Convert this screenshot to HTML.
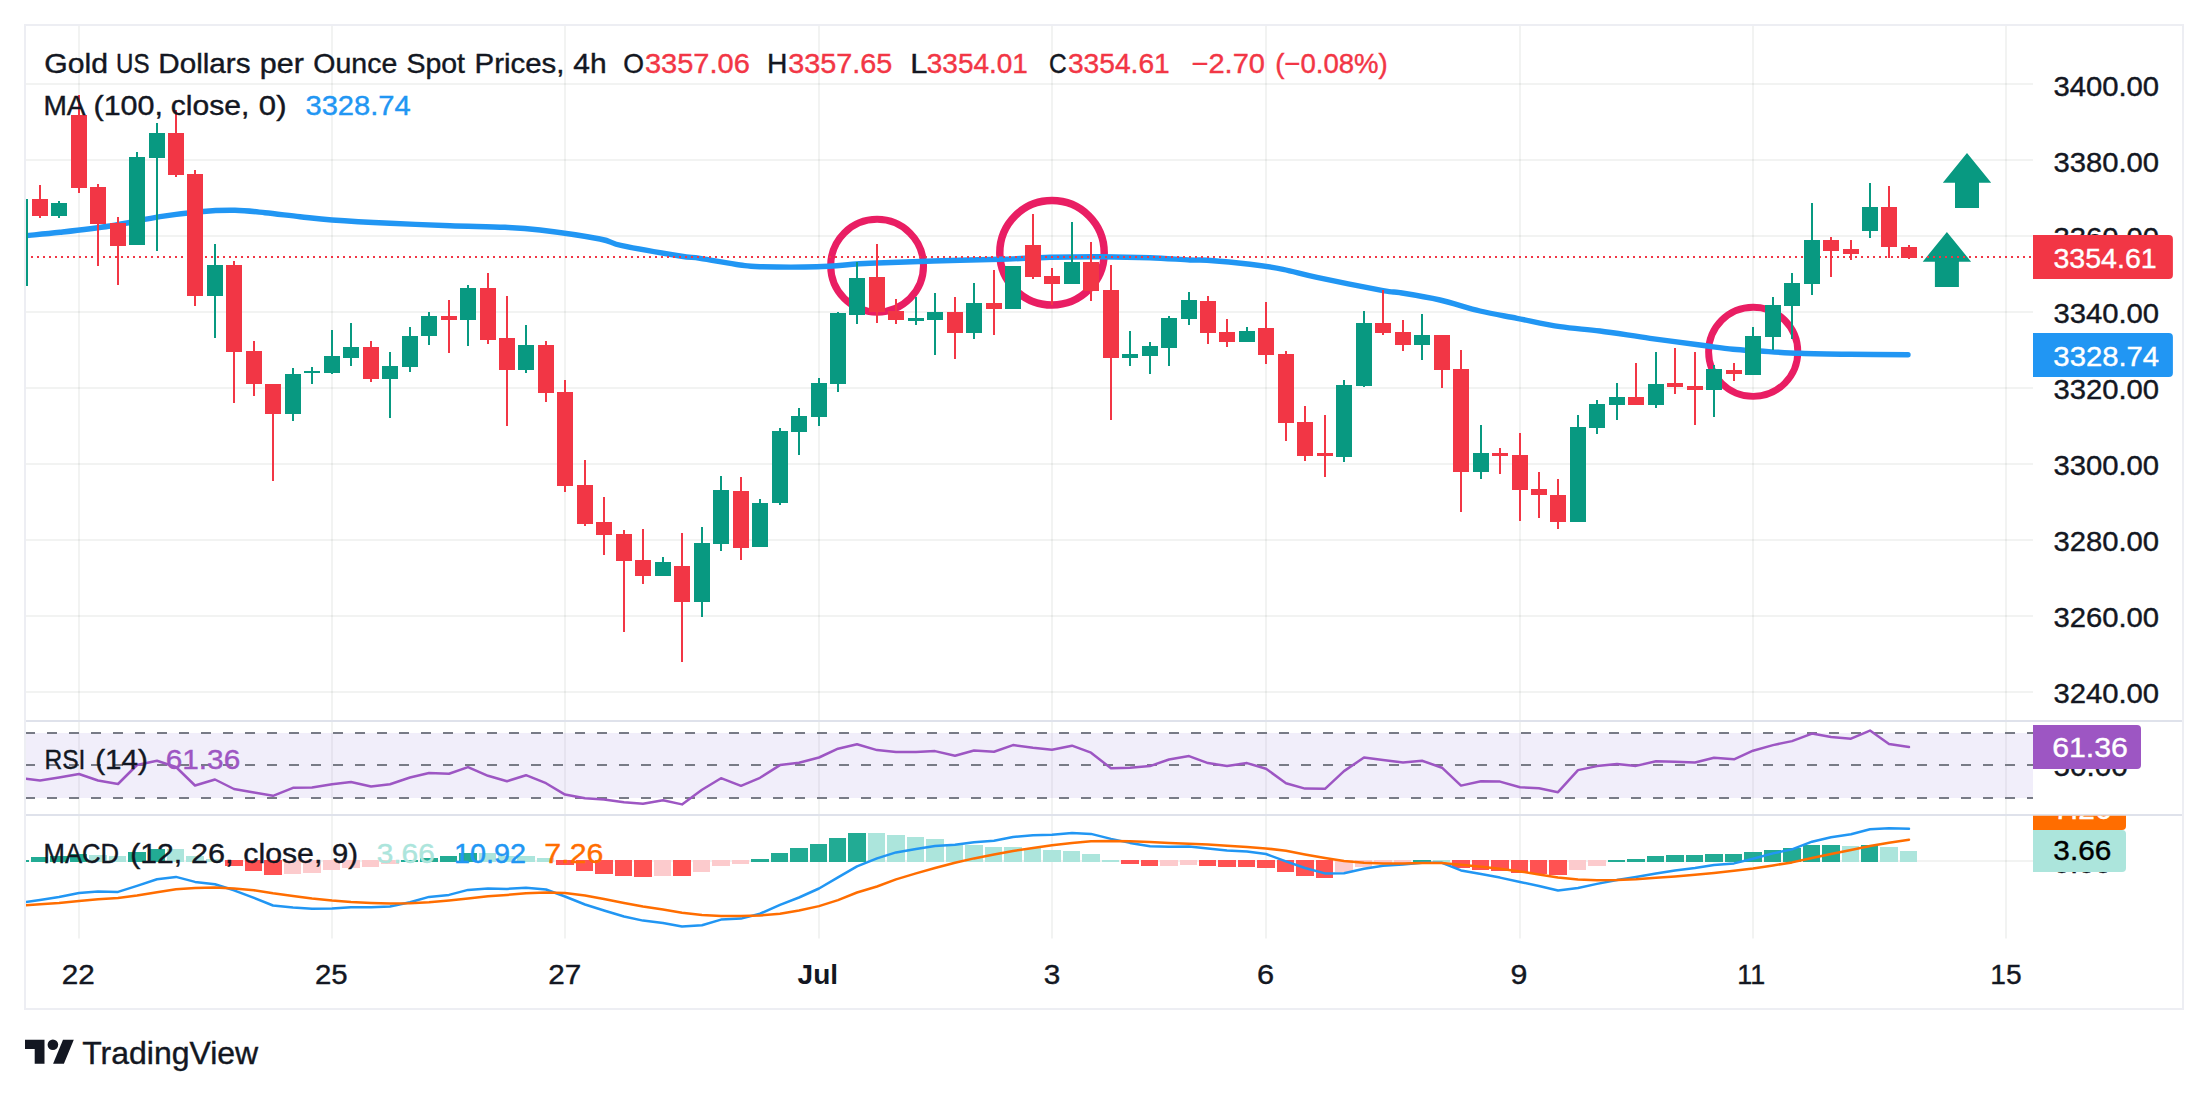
<!DOCTYPE html>
<html><head><meta charset="utf-8"><title>Gold chart</title>
<style>html,body{margin:0;padding:0;background:#fff}svg{display:block}</style></head>
<body>
<svg width="2208" height="1097" viewBox="0 0 2208 1097" font-family="Liberation Sans, Arial, sans-serif" font-size="28" stroke-width="0.4">
<defs>
<clipPath id="cpMain"><rect x="25" y="26" width="2008" height="694"/></clipPath>
<clipPath id="cpRsi"><rect x="26" y="722" width="2007" height="92"/></clipPath>
<clipPath id="cpMacd"><rect x="26" y="816" width="2007" height="123"/></clipPath>
<clipPath id="cpMacdAx"><rect x="2033" y="815.7" width="150" height="123"/></clipPath>
<clipPath id="cpRsiAx"><rect x="2033" y="721.7" width="150" height="92"/></clipPath>
</defs>
<rect width="2208" height="1097" fill="#fff"/>
<rect x="78.0" y="26" width="2" height="912.5" fill="rgba(30,50,40,0.06)"/>
<rect x="331.0" y="26" width="2" height="912.5" fill="rgba(30,50,40,0.06)"/>
<rect x="564.0" y="26" width="2" height="912.5" fill="rgba(30,50,40,0.06)"/>
<rect x="818.0" y="26" width="2" height="912.5" fill="rgba(30,50,40,0.06)"/>
<rect x="1051.0" y="26" width="2" height="912.5" fill="rgba(30,50,40,0.06)"/>
<rect x="1265.0" y="26" width="2" height="912.5" fill="rgba(30,50,40,0.06)"/>
<rect x="1519.0" y="26" width="2" height="912.5" fill="rgba(30,50,40,0.06)"/>
<rect x="1752.0" y="26" width="2" height="912.5" fill="rgba(30,50,40,0.06)"/>
<rect x="2005.0" y="26" width="2" height="912.5" fill="rgba(30,50,40,0.06)"/>
<rect x="26" y="83.0" width="2007" height="2" fill="rgba(30,50,40,0.06)"/>
<rect x="26" y="159.0" width="2007" height="2" fill="rgba(30,50,40,0.06)"/>
<rect x="26" y="235.0" width="2007" height="2" fill="rgba(30,50,40,0.06)"/>
<rect x="26" y="311.0" width="2007" height="2" fill="rgba(30,50,40,0.06)"/>
<rect x="26" y="387.0" width="2007" height="2" fill="rgba(30,50,40,0.06)"/>
<rect x="26" y="463.0" width="2007" height="2" fill="rgba(30,50,40,0.06)"/>
<rect x="26" y="539.0" width="2007" height="2" fill="rgba(30,50,40,0.06)"/>
<rect x="26" y="615.0" width="2007" height="2" fill="rgba(30,50,40,0.06)"/>
<rect x="26" y="691.0" width="2007" height="2" fill="rgba(30,50,40,0.06)"/>
<rect x="26" y="764" width="2007" height="2" fill="rgba(30,50,40,0.06)"/>
<rect x="26" y="860" width="2007" height="2" fill="rgba(30,50,40,0.06)"/>
<rect x="26" y="733" width="2007" height="65" fill="#F1EEFA"/>
<rect x="78.0" y="733" width="2" height="65" fill="#E6E3EF"/>
<rect x="331.0" y="733" width="2" height="65" fill="#E6E3EF"/>
<rect x="564.0" y="733" width="2" height="65" fill="#E6E3EF"/>
<rect x="818.0" y="733" width="2" height="65" fill="#E6E3EF"/>
<rect x="1051.0" y="733" width="2" height="65" fill="#E6E3EF"/>
<rect x="1265.0" y="733" width="2" height="65" fill="#E6E3EF"/>
<rect x="1519.0" y="733" width="2" height="65" fill="#E6E3EF"/>
<rect x="1752.0" y="733" width="2" height="65" fill="#E6E3EF"/>
<rect x="2005.0" y="733" width="2" height="65" fill="#E6E3EF"/>
<line x1="25" x2="2033" y1="733" y2="733" stroke="#787B86" stroke-width="2" stroke-dasharray="10 12"/>
<line x1="25" x2="2033" y1="765" y2="765" stroke="#787B86" stroke-width="2" stroke-dasharray="10 12"/>
<line x1="25" x2="2033" y1="798" y2="798" stroke="#787B86" stroke-width="2" stroke-dasharray="10 12"/>
<g clip-path="url(#cpMacd)">
<rect x="11" y="860" width="18" height="2" fill="#22AB94"/>
<rect x="31" y="857" width="17" height="5" fill="#22AB94"/>
<rect x="50" y="856" width="18" height="6" fill="#22AB94"/>
<rect x="70" y="854" width="17" height="8" fill="#22AB94"/>
<rect x="89" y="855" width="18" height="7" fill="#ACE5DC"/>
<rect x="109" y="856" width="17" height="6" fill="#ACE5DC"/>
<rect x="128" y="852" width="18" height="10" fill="#22AB94"/>
<rect x="148" y="849" width="17" height="13" fill="#22AB94"/>
<rect x="167" y="849" width="17" height="13" fill="#ACE5DC"/>
<rect x="186" y="856" width="18" height="6" fill="#ACE5DC"/>
<rect x="206" y="859" width="17" height="3" fill="#ACE5DC"/>
<rect x="225" y="860" width="18" height="6" fill="#FF5252"/>
<rect x="245" y="860" width="17" height="11" fill="#FF5252"/>
<rect x="264" y="860" width="18" height="15" fill="#FF5252"/>
<rect x="284" y="860" width="17" height="14" fill="#FCCBCD"/>
<rect x="303" y="860" width="18" height="13" fill="#FCCBCD"/>
<rect x="323" y="860" width="17" height="10" fill="#FCCBCD"/>
<rect x="342" y="860" width="18" height="8" fill="#FCCBCD"/>
<rect x="362" y="860" width="17" height="7" fill="#FCCBCD"/>
<rect x="381" y="860" width="18" height="4" fill="#FCCBCD"/>
<rect x="401" y="860" width="17" height="2" fill="#22AB94"/>
<rect x="420" y="858" width="18" height="4" fill="#22AB94"/>
<rect x="440" y="856" width="17" height="6" fill="#22AB94"/>
<rect x="459" y="853" width="18" height="9" fill="#22AB94"/>
<rect x="479" y="853" width="17" height="9" fill="#ACE5DC"/>
<rect x="498" y="856" width="17" height="6" fill="#ACE5DC"/>
<rect x="517" y="856" width="18" height="6" fill="#ACE5DC"/>
<rect x="537" y="858" width="17" height="4" fill="#ACE5DC"/>
<rect x="556" y="860" width="18" height="5" fill="#FF5252"/>
<rect x="576" y="860" width="17" height="11" fill="#FF5252"/>
<rect x="595" y="860" width="18" height="14" fill="#FF5252"/>
<rect x="615" y="860" width="17" height="16" fill="#FF5252"/>
<rect x="634" y="860" width="18" height="17" fill="#FF5252"/>
<rect x="654" y="860" width="17" height="16" fill="#FCCBCD"/>
<rect x="673" y="860" width="18" height="16" fill="#FF5252"/>
<rect x="693" y="860" width="17" height="12" fill="#FCCBCD"/>
<rect x="712" y="860" width="18" height="6" fill="#FCCBCD"/>
<rect x="732" y="860" width="17" height="4" fill="#FCCBCD"/>
<rect x="751" y="859" width="18" height="3" fill="#22AB94"/>
<rect x="771" y="853" width="17" height="9" fill="#22AB94"/>
<rect x="790" y="848" width="18" height="14" fill="#22AB94"/>
<rect x="810" y="844" width="17" height="18" fill="#22AB94"/>
<rect x="829" y="838" width="17" height="24" fill="#22AB94"/>
<rect x="848" y="833" width="18" height="29" fill="#22AB94"/>
<rect x="868" y="833" width="17" height="29" fill="#ACE5DC"/>
<rect x="887" y="835" width="18" height="27" fill="#ACE5DC"/>
<rect x="907" y="837" width="17" height="25" fill="#ACE5DC"/>
<rect x="926" y="839" width="18" height="23" fill="#ACE5DC"/>
<rect x="946" y="845" width="17" height="17" fill="#ACE5DC"/>
<rect x="965" y="845" width="18" height="17" fill="#ACE5DC"/>
<rect x="985" y="847" width="17" height="15" fill="#ACE5DC"/>
<rect x="1004" y="847" width="18" height="15" fill="#ACE5DC"/>
<rect x="1024" y="848" width="17" height="14" fill="#ACE5DC"/>
<rect x="1043" y="850" width="18" height="12" fill="#ACE5DC"/>
<rect x="1063" y="851" width="17" height="11" fill="#ACE5DC"/>
<rect x="1082" y="854" width="18" height="8" fill="#ACE5DC"/>
<rect x="1102" y="860" width="17" height="2" fill="#ACE5DC"/>
<rect x="1121" y="860" width="18" height="4" fill="#FF5252"/>
<rect x="1141" y="860" width="17" height="6" fill="#FF5252"/>
<rect x="1160" y="860" width="18" height="6" fill="#FCCBCD"/>
<rect x="1180" y="860" width="17" height="5" fill="#FCCBCD"/>
<rect x="1199" y="860" width="17" height="6" fill="#FF5252"/>
<rect x="1218" y="860" width="18" height="7" fill="#FF5252"/>
<rect x="1238" y="860" width="17" height="7" fill="#FF5252"/>
<rect x="1257" y="860" width="18" height="8" fill="#FF5252"/>
<rect x="1277" y="860" width="17" height="12" fill="#FF5252"/>
<rect x="1296" y="860" width="18" height="16" fill="#FF5252"/>
<rect x="1316" y="860" width="17" height="18" fill="#FF5252"/>
<rect x="1335" y="860" width="18" height="12" fill="#FCCBCD"/>
<rect x="1355" y="860" width="17" height="7" fill="#FCCBCD"/>
<rect x="1374" y="860" width="18" height="4" fill="#FCCBCD"/>
<rect x="1394" y="860" width="17" height="3" fill="#FCCBCD"/>
<rect x="1413" y="860" width="18" height="2" fill="#22AB94"/>
<rect x="1433" y="860" width="17" height="2" fill="#ACE5DC"/>
<rect x="1452" y="860" width="18" height="8" fill="#FF5252"/>
<rect x="1472" y="860" width="17" height="10" fill="#FF5252"/>
<rect x="1491" y="860" width="18" height="11" fill="#FF5252"/>
<rect x="1511" y="860" width="17" height="13" fill="#FF5252"/>
<rect x="1530" y="860" width="17" height="14" fill="#FF5252"/>
<rect x="1549" y="860" width="18" height="15" fill="#FF5252"/>
<rect x="1569" y="860" width="17" height="10" fill="#FCCBCD"/>
<rect x="1588" y="860" width="18" height="6" fill="#FCCBCD"/>
<rect x="1608" y="860" width="17" height="2" fill="#22AB94"/>
<rect x="1627" y="859" width="18" height="3" fill="#22AB94"/>
<rect x="1647" y="856" width="17" height="6" fill="#22AB94"/>
<rect x="1666" y="855" width="18" height="7" fill="#22AB94"/>
<rect x="1686" y="855" width="17" height="7" fill="#22AB94"/>
<rect x="1705" y="854" width="18" height="8" fill="#22AB94"/>
<rect x="1725" y="854" width="17" height="8" fill="#22AB94"/>
<rect x="1744" y="852" width="18" height="10" fill="#22AB94"/>
<rect x="1764" y="850" width="17" height="12" fill="#22AB94"/>
<rect x="1783" y="848" width="18" height="14" fill="#22AB94"/>
<rect x="1803" y="845" width="17" height="17" fill="#22AB94"/>
<rect x="1822" y="845" width="18" height="17" fill="#22AB94"/>
<rect x="1842" y="846" width="17" height="16" fill="#ACE5DC"/>
<rect x="1861" y="845" width="17" height="17" fill="#22AB94"/>
<rect x="1880" y="847" width="18" height="15" fill="#ACE5DC"/>
<rect x="1900" y="851" width="17" height="11" fill="#ACE5DC"/>
<polyline points="20.0,902.9 40.0,899.9 59.0,896.9 79.0,892.9 98.0,891.5 118.0,891.9 137.0,885.9 157.0,879.3 176.0,876.9 195.0,881.9 215.0,884.3 234.0,890.3 254.0,897.9 273.0,905.5 293.0,907.5 312.0,908.7 332.0,908.5 351.0,907.3 371.0,907.3 390.0,906.5 410.0,902.3 429.0,896.9 449.0,894.9 468.0,889.9 488.0,888.5 507.0,888.9 526.0,887.7 546.0,889.5 565.0,896.5 585.0,904.5 604.0,910.5 624.0,916.5 643.0,920.6 663.0,923.0 682.0,926.6 702.0,925.2 721.0,919.6 741.0,918.6 760.0,913.7 780.0,904.9 799.0,897.5 819.0,888.5 838.0,877.4 857.0,866.4 877.0,858.4 896.0,852.4 916.0,849.0 935.0,846.0 955.0,844.7 974.0,842.3 994.0,840.7 1013.0,836.9 1033.0,835.3 1052.0,834.7 1072.0,833.1 1091.0,833.9 1111.0,838.9 1130.0,842.9 1150.0,846.2 1169.0,846.8 1189.0,846.4 1208.0,848.4 1227.0,850.4 1247.0,851.6 1266.0,854.0 1286.0,861.4 1305.0,868.0 1325.0,873.4 1344.0,873.2 1364.0,868.8 1383.0,865.8 1403.0,864.4 1422.0,862.8 1442.0,862.8 1461.0,870.4 1481.0,874.0 1500.0,877.6 1520.0,882.0 1539.0,886.0 1558.0,890.5 1578.0,888.0 1597.0,883.9 1617.0,880.0 1636.0,877.0 1656.0,873.4 1675.0,870.4 1695.0,868.0 1714.0,865.0 1734.0,863.4 1753.0,858.8 1773.0,853.4 1792.0,849.4 1812.0,841.7 1831.0,837.3 1851.0,834.3 1870.0,829.3 1889.0,828.3 1909.0,828.7" fill="none" stroke="#2196F3" stroke-width="2.5" stroke-linejoin="round" stroke-linecap="round"/>
<polyline points="20.0,905.5 40.0,904.3 59.0,902.9 79.0,900.9 98.0,899.3 118.0,897.9 137.0,895.5 157.0,892.3 176.0,889.3 195.0,887.9 215.0,887.5 234.0,888.5 254.0,890.3 273.0,893.3 293.0,895.9 312.0,898.5 332.0,900.5 351.0,901.9 371.0,902.9 390.0,903.5 410.0,903.3 429.0,902.3 449.0,900.5 468.0,898.5 488.0,896.3 507.0,894.9 526.0,893.3 546.0,892.5 565.0,893.1 585.0,895.5 604.0,899.1 624.0,903.1 643.0,906.5 663.0,909.5 682.0,912.7 702.0,914.9 721.0,915.9 741.0,916.1 760.0,915.5 780.0,913.7 799.0,910.5 819.0,906.1 838.0,900.1 857.0,892.5 877.0,886.5 896.0,879.4 916.0,873.4 935.0,868.0 955.0,862.8 974.0,858.4 994.0,854.4 1013.0,851.0 1033.0,848.0 1052.0,845.3 1072.0,842.9 1091.0,841.3 1111.0,840.9 1130.0,841.3 1150.0,842.1 1169.0,842.9 1189.0,843.7 1208.0,844.5 1227.0,845.8 1247.0,847.0 1266.0,848.4 1286.0,850.8 1305.0,854.4 1325.0,858.0 1344.0,861.0 1364.0,862.8 1383.0,863.4 1403.0,863.4 1422.0,863.0 1442.0,863.0 1461.0,864.8 1481.0,866.8 1500.0,868.8 1520.0,871.4 1539.0,874.4 1558.0,877.4 1578.0,879.4 1597.0,880.2 1617.0,880.0 1636.0,879.2 1656.0,877.8 1675.0,876.4 1695.0,874.8 1714.0,873.0 1734.0,870.8 1753.0,868.4 1773.0,865.4 1792.0,862.4 1812.0,858.0 1831.0,854.0 1851.0,850.0 1870.0,846.0 1889.0,842.7 1909.0,839.7" fill="none" stroke="#FF6D00" stroke-width="2.5" stroke-linejoin="round" stroke-linecap="round"/>
</g>
<g clip-path="url(#cpRsi)">
<polyline points="20.0,778.0 40.0,780.5 59.0,777.5 79.0,774.0 98.0,780.5 118.0,784.0 137.0,765.0 157.0,760.8 176.0,767.0 195.0,785.5 215.0,779.5 234.0,789.0 254.0,792.5 273.0,795.8 293.0,787.8 312.0,787.5 332.0,784.2 351.0,782.0 371.0,786.5 390.0,784.2 410.0,777.5 429.0,773.0 449.0,773.7 468.0,767.1 488.0,775.8 507.0,781.2 526.0,775.2 546.0,783.2 565.0,794.6 585.0,798.2 604.0,799.4 624.0,802.2 643.0,803.8 663.0,800.2 682.0,804.4 702.0,789.8 721.0,778.2 741.0,785.8 760.0,777.8 780.0,765.1 799.0,762.7 819.0,757.5 838.0,748.7 857.0,744.3 877.0,750.1 896.0,752.1 916.0,752.1 935.0,751.1 955.0,755.7 974.0,750.5 994.0,751.7 1013.0,745.1 1033.0,747.7 1052.0,749.7 1072.0,745.7 1091.0,752.7 1111.0,768.3 1130.0,767.7 1150.0,766.1 1169.0,759.5 1189.0,756.1 1208.0,763.1 1227.0,765.9 1247.0,763.1 1266.0,768.7 1286.0,783.2 1305.0,788.6 1325.0,788.8 1344.0,771.1 1364.0,757.5 1383.0,759.9 1403.0,762.5 1422.0,760.7 1442.0,767.7 1461.0,785.6 1481.0,781.2 1500.0,781.6 1520.0,787.2 1539.0,788.2 1558.0,792.2 1578.0,770.1 1597.0,766.1 1617.0,764.1 1636.0,765.9 1656.0,761.3 1675.0,761.7 1695.0,762.5 1714.0,757.7 1734.0,759.3 1753.0,750.7 1773.0,745.1 1792.0,741.1 1812.0,733.6 1831.0,737.0 1851.0,738.7 1870.0,730.6 1889.0,744.1 1909.0,747.1" fill="none" stroke="#9D56C3" stroke-width="2.5" stroke-linejoin="round" stroke-linecap="round"/>
</g>
<g clip-path="url(#cpMain)">
<circle cx="877.1" cy="265.7" r="46.4" fill="none" stroke="#E91E63" stroke-width="7.1"/>
<circle cx="1052" cy="252.8" r="52.2" fill="none" stroke="#E91E63" stroke-width="7.5"/>
<circle cx="1753.2" cy="351.8" r="44.6" fill="none" stroke="#E91E63" stroke-width="6.9"/>
<path d="M1967,153.1 L1991.2,182.7 L1979,182.7 L1979,207.89999999999998 L1955,207.89999999999998 L1955,182.7 L1942.8,182.7 Z" fill="#089981"/>
<path d="M1946.9,232.1 L1971.1000000000001,261.7 L1958.9,261.7 L1958.9,286.9 L1934.9,286.9 L1934.9,261.7 L1922.7,261.7 Z" fill="#089981"/>
<path d="M5.0,238.0C8.3,237.6 15.8,236.6 25.0,235.7C34.2,234.8 45.8,233.9 60.0,232.3C74.2,230.7 93.3,228.6 110.0,226.0C126.7,223.4 145.0,219.1 160.0,216.7C175.0,214.3 187.5,212.8 200.0,211.7C212.5,210.6 224.2,210.1 235.0,210.3C245.8,210.5 254.2,211.6 265.0,212.7C275.8,213.8 288.8,215.5 300.0,216.7C311.2,217.9 317.0,218.9 332.0,220.0C347.0,221.1 370.3,222.4 390.0,223.3C409.7,224.2 430.8,225.0 450.0,225.7C469.2,226.4 490.0,226.6 505.0,227.3C520.0,228.0 524.2,228.1 540.0,230.0C555.8,231.9 586.3,236.4 600.0,239.0C613.7,241.6 608.7,242.9 622.0,245.7C635.3,248.5 667.0,253.9 680.0,256.0C693.0,258.1 690.0,256.8 700.0,258.3C710.0,259.8 730.0,263.6 740.0,265.0C750.0,266.4 747.2,266.4 760.0,266.7C772.8,267.0 798.7,267.3 817.0,266.7C835.3,266.1 850.7,264.2 870.0,263.3C889.3,262.4 911.3,261.7 933.0,261.0C954.7,260.3 980.5,259.9 1000.0,259.3C1019.5,258.7 1033.3,257.7 1050.0,257.3C1066.7,256.9 1083.3,256.6 1100.0,256.7C1116.7,256.8 1135.0,257.1 1150.0,257.7C1165.0,258.2 1180.5,259.6 1190.0,260.0C1199.5,260.4 1197.0,259.6 1207.0,260.3C1217.0,261.0 1237.3,262.8 1250.0,264.3C1262.7,265.8 1271.8,267.1 1283.0,269.3C1294.2,271.5 1300.3,273.7 1317.0,277.3C1333.7,280.9 1369.2,288.1 1383.0,290.7C1396.8,293.3 1390.5,291.1 1400.0,292.7C1409.5,294.2 1426.7,296.9 1440.0,300.0C1453.3,303.1 1467.2,307.9 1480.0,311.0C1492.8,314.1 1503.7,315.7 1517.0,318.3C1530.3,320.9 1546.2,324.6 1560.0,326.7C1573.8,328.8 1585.0,329.1 1600.0,331.0C1615.0,332.9 1633.3,336.0 1650.0,338.3C1666.7,340.6 1686.2,343.2 1700.0,345.0C1713.8,346.8 1723.0,348.3 1733.0,349.3C1743.0,350.3 1748.8,350.3 1760.0,351.0C1771.2,351.7 1785.0,352.8 1800.0,353.3C1815.0,353.9 1832.0,354.1 1850.0,354.3C1868.0,354.5 1898.3,354.6 1908.0,354.7" fill="none" stroke="#2196F3" stroke-width="5.4" stroke-linecap="round" stroke-linejoin="round"/>
<line x1="25" x2="2033" y1="257" y2="257" stroke="#F23645" stroke-width="2" stroke-dasharray="2 4"/>
<rect x="19" y="199" width="2" height="87" fill="#089981"/>
<rect x="12" y="199" width="16" height="87" fill="#089981"/>
<rect x="39" y="185" width="2" height="33" fill="#F23645"/>
<rect x="32" y="199" width="16" height="17" fill="#F23645"/>
<rect x="58" y="201" width="2" height="17" fill="#089981"/>
<rect x="51" y="203" width="16" height="13" fill="#089981"/>
<rect x="78" y="95" width="2" height="98" fill="#F23645"/>
<rect x="71" y="115" width="16" height="73" fill="#F23645"/>
<rect x="97" y="184" width="2" height="82" fill="#F23645"/>
<rect x="90" y="187" width="16" height="37" fill="#F23645"/>
<rect x="117" y="217" width="2" height="68" fill="#F23645"/>
<rect x="110" y="223" width="16" height="23" fill="#F23645"/>
<rect x="136" y="152" width="2" height="93" fill="#089981"/>
<rect x="129" y="157" width="16" height="88" fill="#089981"/>
<rect x="156" y="123" width="2" height="128" fill="#089981"/>
<rect x="149" y="133" width="16" height="25" fill="#089981"/>
<rect x="175" y="110" width="2" height="67" fill="#F23645"/>
<rect x="168" y="133" width="16" height="42" fill="#F23645"/>
<rect x="194" y="170" width="2" height="136" fill="#F23645"/>
<rect x="187" y="174" width="16" height="122" fill="#F23645"/>
<rect x="214" y="244" width="2" height="94" fill="#089981"/>
<rect x="207" y="265" width="16" height="31" fill="#089981"/>
<rect x="233" y="261" width="2" height="142" fill="#F23645"/>
<rect x="226" y="265" width="16" height="87" fill="#F23645"/>
<rect x="253" y="341" width="2" height="55" fill="#F23645"/>
<rect x="246" y="351" width="16" height="33" fill="#F23645"/>
<rect x="272" y="384" width="2" height="97" fill="#F23645"/>
<rect x="265" y="384" width="16" height="30" fill="#F23645"/>
<rect x="292" y="368" width="2" height="53" fill="#089981"/>
<rect x="285" y="374" width="16" height="40" fill="#089981"/>
<rect x="311" y="367" width="2" height="17" fill="#089981"/>
<rect x="304" y="371" width="16" height="2" fill="#089981"/>
<rect x="331" y="330" width="2" height="44" fill="#089981"/>
<rect x="324" y="356" width="16" height="17" fill="#089981"/>
<rect x="350" y="323" width="2" height="43" fill="#089981"/>
<rect x="343" y="347" width="16" height="11" fill="#089981"/>
<rect x="370" y="341" width="2" height="41" fill="#F23645"/>
<rect x="363" y="347" width="16" height="32" fill="#F23645"/>
<rect x="389" y="352" width="2" height="66" fill="#089981"/>
<rect x="382" y="366" width="16" height="13" fill="#089981"/>
<rect x="409" y="327" width="2" height="45" fill="#089981"/>
<rect x="402" y="336" width="16" height="31" fill="#089981"/>
<rect x="428" y="312" width="2" height="33" fill="#089981"/>
<rect x="421" y="316" width="16" height="20" fill="#089981"/>
<rect x="448" y="300" width="2" height="53" fill="#F23645"/>
<rect x="441" y="316" width="16" height="4" fill="#F23645"/>
<rect x="467" y="285" width="2" height="61" fill="#089981"/>
<rect x="460" y="288" width="16" height="32" fill="#089981"/>
<rect x="487" y="273" width="2" height="71" fill="#F23645"/>
<rect x="480" y="288" width="16" height="52" fill="#F23645"/>
<rect x="506" y="296" width="2" height="130" fill="#F23645"/>
<rect x="499" y="338" width="16" height="32" fill="#F23645"/>
<rect x="525" y="325" width="2" height="48" fill="#089981"/>
<rect x="518" y="345" width="16" height="25" fill="#089981"/>
<rect x="545" y="341" width="2" height="61" fill="#F23645"/>
<rect x="538" y="345" width="16" height="48" fill="#F23645"/>
<rect x="564" y="380" width="2" height="112" fill="#F23645"/>
<rect x="557" y="392" width="16" height="94" fill="#F23645"/>
<rect x="584" y="460" width="2" height="66" fill="#F23645"/>
<rect x="577" y="485" width="16" height="39" fill="#F23645"/>
<rect x="603" y="497" width="2" height="58" fill="#F23645"/>
<rect x="596" y="522" width="16" height="13" fill="#F23645"/>
<rect x="623" y="530" width="2" height="102" fill="#F23645"/>
<rect x="616" y="534" width="16" height="27" fill="#F23645"/>
<rect x="642" y="529" width="2" height="55" fill="#F23645"/>
<rect x="635" y="560" width="16" height="16" fill="#F23645"/>
<rect x="662" y="557" width="2" height="19" fill="#089981"/>
<rect x="655" y="562" width="16" height="14" fill="#089981"/>
<rect x="681" y="533" width="2" height="129" fill="#F23645"/>
<rect x="674" y="566" width="16" height="36" fill="#F23645"/>
<rect x="701" y="527" width="2" height="90" fill="#089981"/>
<rect x="694" y="543" width="16" height="59" fill="#089981"/>
<rect x="720" y="476" width="2" height="75" fill="#089981"/>
<rect x="713" y="490" width="16" height="54" fill="#089981"/>
<rect x="740" y="477" width="2" height="83" fill="#F23645"/>
<rect x="733" y="491" width="16" height="57" fill="#F23645"/>
<rect x="759" y="499" width="2" height="48" fill="#089981"/>
<rect x="752" y="503" width="16" height="44" fill="#089981"/>
<rect x="779" y="428" width="2" height="77" fill="#089981"/>
<rect x="772" y="431" width="16" height="72" fill="#089981"/>
<rect x="798" y="408" width="2" height="47" fill="#089981"/>
<rect x="791" y="416" width="16" height="16" fill="#089981"/>
<rect x="818" y="378" width="2" height="48" fill="#089981"/>
<rect x="811" y="383" width="16" height="34" fill="#089981"/>
<rect x="837" y="312" width="2" height="80" fill="#089981"/>
<rect x="830" y="313" width="16" height="71" fill="#089981"/>
<rect x="856" y="262" width="2" height="62" fill="#089981"/>
<rect x="849" y="278" width="16" height="37" fill="#089981"/>
<rect x="876" y="244" width="2" height="79" fill="#F23645"/>
<rect x="869" y="277" width="16" height="35" fill="#F23645"/>
<rect x="895" y="299" width="2" height="25" fill="#F23645"/>
<rect x="888" y="311" width="16" height="9" fill="#F23645"/>
<rect x="915" y="297" width="2" height="28" fill="#089981"/>
<rect x="908" y="318" width="16" height="3" fill="#089981"/>
<rect x="934" y="293" width="2" height="62" fill="#089981"/>
<rect x="927" y="312" width="16" height="8" fill="#089981"/>
<rect x="954" y="297" width="2" height="62" fill="#F23645"/>
<rect x="947" y="312" width="16" height="21" fill="#F23645"/>
<rect x="973" y="283" width="2" height="56" fill="#089981"/>
<rect x="966" y="303" width="16" height="30" fill="#089981"/>
<rect x="993" y="270" width="2" height="65" fill="#F23645"/>
<rect x="986" y="303" width="16" height="6" fill="#F23645"/>
<rect x="1012" y="266" width="2" height="43" fill="#089981"/>
<rect x="1005" y="266" width="16" height="43" fill="#089981"/>
<rect x="1032" y="214" width="2" height="65" fill="#F23645"/>
<rect x="1025" y="245" width="16" height="32" fill="#F23645"/>
<rect x="1051" y="268" width="2" height="37" fill="#F23645"/>
<rect x="1044" y="276" width="16" height="8" fill="#F23645"/>
<rect x="1071" y="222" width="2" height="62" fill="#089981"/>
<rect x="1064" y="262" width="16" height="22" fill="#089981"/>
<rect x="1090" y="242" width="2" height="59" fill="#F23645"/>
<rect x="1083" y="262" width="16" height="29" fill="#F23645"/>
<rect x="1110" y="265" width="2" height="155" fill="#F23645"/>
<rect x="1103" y="290" width="16" height="68" fill="#F23645"/>
<rect x="1129" y="331" width="2" height="35" fill="#089981"/>
<rect x="1122" y="354" width="16" height="4" fill="#089981"/>
<rect x="1149" y="342" width="2" height="32" fill="#089981"/>
<rect x="1142" y="346" width="16" height="10" fill="#089981"/>
<rect x="1168" y="316" width="2" height="50" fill="#089981"/>
<rect x="1161" y="318" width="16" height="30" fill="#089981"/>
<rect x="1188" y="292" width="2" height="33" fill="#089981"/>
<rect x="1181" y="300" width="16" height="19" fill="#089981"/>
<rect x="1207" y="296" width="2" height="48" fill="#F23645"/>
<rect x="1200" y="301" width="16" height="32" fill="#F23645"/>
<rect x="1226" y="319" width="2" height="28" fill="#F23645"/>
<rect x="1219" y="332" width="16" height="10" fill="#F23645"/>
<rect x="1246" y="327" width="2" height="15" fill="#089981"/>
<rect x="1239" y="331" width="16" height="11" fill="#089981"/>
<rect x="1265" y="302" width="2" height="62" fill="#F23645"/>
<rect x="1258" y="328" width="16" height="27" fill="#F23645"/>
<rect x="1285" y="351" width="2" height="90" fill="#F23645"/>
<rect x="1278" y="354" width="16" height="69" fill="#F23645"/>
<rect x="1304" y="406" width="2" height="55" fill="#F23645"/>
<rect x="1297" y="422" width="16" height="34" fill="#F23645"/>
<rect x="1324" y="415" width="2" height="62" fill="#F23645"/>
<rect x="1317" y="453" width="16" height="3" fill="#F23645"/>
<rect x="1343" y="380" width="2" height="82" fill="#089981"/>
<rect x="1336" y="385" width="16" height="72" fill="#089981"/>
<rect x="1363" y="311" width="2" height="76" fill="#089981"/>
<rect x="1356" y="323" width="16" height="63" fill="#089981"/>
<rect x="1382" y="290" width="2" height="45" fill="#F23645"/>
<rect x="1375" y="323" width="16" height="10" fill="#F23645"/>
<rect x="1402" y="320" width="2" height="31" fill="#F23645"/>
<rect x="1395" y="332" width="16" height="13" fill="#F23645"/>
<rect x="1421" y="314" width="2" height="46" fill="#089981"/>
<rect x="1414" y="335" width="16" height="10" fill="#089981"/>
<rect x="1441" y="335" width="2" height="53" fill="#F23645"/>
<rect x="1434" y="335" width="16" height="35" fill="#F23645"/>
<rect x="1460" y="350" width="2" height="162" fill="#F23645"/>
<rect x="1453" y="369" width="16" height="103" fill="#F23645"/>
<rect x="1480" y="425" width="2" height="54" fill="#089981"/>
<rect x="1473" y="453" width="16" height="19" fill="#089981"/>
<rect x="1499" y="448" width="2" height="26" fill="#F23645"/>
<rect x="1492" y="453" width="16" height="3" fill="#F23645"/>
<rect x="1519" y="433" width="2" height="88" fill="#F23645"/>
<rect x="1512" y="455" width="16" height="35" fill="#F23645"/>
<rect x="1538" y="472" width="2" height="46" fill="#F23645"/>
<rect x="1531" y="489" width="16" height="6" fill="#F23645"/>
<rect x="1557" y="479" width="2" height="50" fill="#F23645"/>
<rect x="1550" y="495" width="16" height="27" fill="#F23645"/>
<rect x="1577" y="415" width="2" height="107" fill="#089981"/>
<rect x="1570" y="427" width="16" height="95" fill="#089981"/>
<rect x="1596" y="400" width="2" height="34" fill="#089981"/>
<rect x="1589" y="404" width="16" height="24" fill="#089981"/>
<rect x="1616" y="383" width="2" height="37" fill="#089981"/>
<rect x="1609" y="397" width="16" height="8" fill="#089981"/>
<rect x="1635" y="363" width="2" height="42" fill="#F23645"/>
<rect x="1628" y="397" width="16" height="8" fill="#F23645"/>
<rect x="1655" y="352" width="2" height="56" fill="#089981"/>
<rect x="1648" y="384" width="16" height="21" fill="#089981"/>
<rect x="1674" y="348" width="2" height="46" fill="#F23645"/>
<rect x="1667" y="383" width="16" height="4" fill="#F23645"/>
<rect x="1694" y="352" width="2" height="73" fill="#F23645"/>
<rect x="1687" y="386" width="16" height="4" fill="#F23645"/>
<rect x="1713" y="365" width="2" height="52" fill="#089981"/>
<rect x="1706" y="369" width="16" height="21" fill="#089981"/>
<rect x="1733" y="363" width="2" height="18" fill="#F23645"/>
<rect x="1726" y="370" width="16" height="4" fill="#F23645"/>
<rect x="1752" y="327" width="2" height="48" fill="#089981"/>
<rect x="1745" y="336" width="16" height="39" fill="#089981"/>
<rect x="1772" y="297" width="2" height="53" fill="#089981"/>
<rect x="1765" y="305" width="16" height="32" fill="#089981"/>
<rect x="1791" y="273" width="2" height="66" fill="#089981"/>
<rect x="1784" y="283" width="16" height="23" fill="#089981"/>
<rect x="1811" y="203" width="2" height="92" fill="#089981"/>
<rect x="1804" y="240" width="16" height="44" fill="#089981"/>
<rect x="1830" y="237" width="2" height="40" fill="#F23645"/>
<rect x="1823" y="240" width="16" height="11" fill="#F23645"/>
<rect x="1850" y="240" width="2" height="20" fill="#F23645"/>
<rect x="1843" y="249" width="16" height="5" fill="#F23645"/>
<rect x="1869" y="183" width="2" height="55" fill="#089981"/>
<rect x="1862" y="207" width="16" height="24" fill="#089981"/>
<rect x="1888" y="186" width="2" height="72" fill="#F23645"/>
<rect x="1881" y="207" width="16" height="40" fill="#F23645"/>
<rect x="1908" y="245" width="2" height="14" fill="#F23645"/>
<rect x="1901" y="247" width="16" height="11" fill="#F23645"/>
</g>
<text y="72.8" font-size="28" xml:space="preserve"><tspan x="44.18" textLength="63.76" lengthAdjust="spacingAndGlyphs" fill="#131722" stroke="#131722">Gold</tspan> <tspan x="116.04" textLength="33.46" lengthAdjust="spacingAndGlyphs" fill="#131722" stroke="#131722">US</tspan> <tspan x="158.27" textLength="92.31" lengthAdjust="spacingAndGlyphs" fill="#131722" stroke="#131722">Dollars</tspan> <tspan x="259.73" textLength="44.07" lengthAdjust="spacingAndGlyphs" fill="#131722" stroke="#131722">per</tspan> <tspan x="313.35" textLength="83.91" lengthAdjust="spacingAndGlyphs" fill="#131722" stroke="#131722">Ounce</tspan> <tspan x="406.41" textLength="58.60" lengthAdjust="spacingAndGlyphs" fill="#131722" stroke="#131722">Spot</tspan> <tspan x="474.59" textLength="89.85" lengthAdjust="spacingAndGlyphs" fill="#131722" stroke="#131722">Prices,</tspan> <tspan x="573.31" textLength="33.33" lengthAdjust="spacingAndGlyphs" fill="#131722" stroke="#131722">4h</tspan> <tspan x="623.34" textLength="20.74" lengthAdjust="spacingAndGlyphs" fill="#131722" stroke="#131722">O</tspan> <tspan x="645.00" textLength="104.78" lengthAdjust="spacingAndGlyphs" fill="#F23645" stroke="#F23645">3357.06</tspan> <tspan x="767.08" textLength="20.43" lengthAdjust="spacingAndGlyphs" fill="#131722" stroke="#131722">H</tspan> <tspan x="788.20" textLength="104.21" lengthAdjust="spacingAndGlyphs" fill="#F23645" stroke="#F23645">3357.65</tspan> <tspan x="910.34" textLength="16.02" lengthAdjust="spacingAndGlyphs" fill="#131722" stroke="#131722">L</tspan> <tspan x="926.84" textLength="101.03" lengthAdjust="spacingAndGlyphs" fill="#F23645" stroke="#F23645">3354.01</tspan> <tspan x="1048.96" textLength="17.68" lengthAdjust="spacingAndGlyphs" fill="#131722" stroke="#131722">C</tspan> <tspan x="1067.93" textLength="101.85" lengthAdjust="spacingAndGlyphs" fill="#F23645" stroke="#F23645">3354.61</tspan> <tspan x="1191.47" textLength="73.47" lengthAdjust="spacingAndGlyphs" fill="#F23645" stroke="#F23645">−2.70</tspan> <tspan x="1275.19" textLength="112.62" lengthAdjust="spacingAndGlyphs" fill="#F23645" stroke="#F23645">(−0.08%)</tspan></text>
<text y="114.7" font-size="28" xml:space="preserve"><tspan x="43.48" textLength="40.57" lengthAdjust="spacingAndGlyphs" fill="#131722" stroke="#131722">MA</tspan> <tspan x="93.51" textLength="69.53" lengthAdjust="spacingAndGlyphs" fill="#131722" stroke="#131722">(100,</tspan> <tspan x="170.82" textLength="78.58" lengthAdjust="spacingAndGlyphs" fill="#131722" stroke="#131722">close,</tspan> <tspan x="258.89" textLength="27.64" lengthAdjust="spacingAndGlyphs" fill="#131722" stroke="#131722">0)</tspan> <tspan x="305.49" textLength="105.16" lengthAdjust="spacingAndGlyphs" fill="#2196F3" stroke="#2196F3">3328.74</tspan></text>
<text y="769.3" font-size="28" xml:space="preserve"><tspan x="44.48" textLength="40.99" lengthAdjust="spacingAndGlyphs" fill="#131722" stroke="#131722">RSI</tspan> <tspan x="95.27" textLength="52.57" lengthAdjust="spacingAndGlyphs" fill="#131722" stroke="#131722">(14)</tspan> <tspan x="165.69" textLength="74.52" lengthAdjust="spacingAndGlyphs" fill="#9D56C3" stroke="#9D56C3">61.36</tspan></text>
<text y="863.4" font-size="28" xml:space="preserve"><tspan x="43.60" textLength="75.53" lengthAdjust="spacingAndGlyphs" fill="#131722" stroke="#131722">MACD</tspan> <tspan x="130.23" textLength="51.87" lengthAdjust="spacingAndGlyphs" fill="#131722" stroke="#131722">(12,</tspan> <tspan x="190.96" textLength="42.59" lengthAdjust="spacingAndGlyphs" fill="#131722" stroke="#131722">26,</tspan> <tspan x="243.32" textLength="79.00" lengthAdjust="spacingAndGlyphs" fill="#131722" stroke="#131722">close,</tspan> <tspan x="332.13" textLength="25.98" lengthAdjust="spacingAndGlyphs" fill="#131722" stroke="#131722">9)</tspan> <tspan x="376.77" textLength="57.94" lengthAdjust="spacingAndGlyphs" fill="#ACE5DC" stroke="#ACE5DC">3.66</tspan> <tspan x="454.00" textLength="72.15" lengthAdjust="spacingAndGlyphs" fill="#2196F3" stroke="#2196F3">10.92</tspan> <tspan x="544.34" textLength="59.09" lengthAdjust="spacingAndGlyphs" fill="#FF6D00" stroke="#FF6D00">7.26</tspan></text>
<rect x="25.5" y="720.0" width="2157.0" height="2" fill="#DFE2EB"/>
<rect x="25.5" y="814.0" width="2157.0" height="2" fill="#DFE2EB"/>
<rect x="25" y="25" width="2158" height="984" fill="none" stroke="#EDEEF3" stroke-width="2"/>
<text x="2053.49" y="95.9" textLength="105.65" lengthAdjust="spacingAndGlyphs" fill="#131722" stroke="#131722" font-size="28" >3400.00</text>
<text x="2053.49" y="171.8" textLength="105.65" lengthAdjust="spacingAndGlyphs" fill="#131722" stroke="#131722" font-size="28" >3380.00</text>
<text x="2053.49" y="246.5" textLength="105.65" lengthAdjust="spacingAndGlyphs" fill="#131722" stroke="#131722" font-size="28" >3360.00</text>
<text x="2053.49" y="322.8" textLength="105.65" lengthAdjust="spacingAndGlyphs" fill="#131722" stroke="#131722" font-size="28" >3340.00</text>
<text x="2053.49" y="398.9" textLength="105.65" lengthAdjust="spacingAndGlyphs" fill="#131722" stroke="#131722" font-size="28" >3320.00</text>
<text x="2053.49" y="474.9" textLength="105.65" lengthAdjust="spacingAndGlyphs" fill="#131722" stroke="#131722" font-size="28" >3300.00</text>
<text x="2053.49" y="550.7" textLength="105.65" lengthAdjust="spacingAndGlyphs" fill="#131722" stroke="#131722" font-size="28" >3280.00</text>
<text x="2053.49" y="626.7" textLength="105.65" lengthAdjust="spacingAndGlyphs" fill="#131722" stroke="#131722" font-size="28" >3260.00</text>
<text x="2053.49" y="702.7" textLength="105.65" lengthAdjust="spacingAndGlyphs" fill="#131722" stroke="#131722" font-size="28" >3240.00</text>
<g>
<path d="M2033,235 H2168.9 Q2172.9,235 2172.9,239 V275 Q2172.9,279 2168.9,279 H2033 Z" fill="#F23645"/>
<text x="2053.41" y="267.9" textLength="103.28" lengthAdjust="spacingAndGlyphs" fill="#fff" stroke="#fff" font-size="28" >3354.61</text>
</g>
<g>
<path d="M2033,333 H2168.9 Q2172.9,333 2172.9,337 V373 Q2172.9,377 2168.9,377 H2033 Z" fill="#2196F3"/>
<text x="2053.39" y="365.7" textLength="105.77" lengthAdjust="spacingAndGlyphs" fill="#fff" stroke="#fff" font-size="28" >3328.74</text>
</g>
<g clip-path="url(#cpRsiAx)">
<text x="2053.41" y="776.4" textLength="74.35" lengthAdjust="spacingAndGlyphs" fill="#131722" stroke="#131722" font-size="28" >50.00</text>
</g>
<g clip-path="url(#cpRsiAx)">
<path d="M2033,725 H2137 Q2141,725 2141,729 V765 Q2141,769 2137,769 H2033 Z" fill="#9D56C3"/>
<text x="2052.16" y="757.4" textLength="75.77" lengthAdjust="spacingAndGlyphs" fill="#fff" stroke="#fff" font-size="28" >61.36</text>
</g>
<g clip-path="url(#cpMacdAx)">
<text x="2053.44" y="873.3" textLength="57.93" lengthAdjust="spacingAndGlyphs" fill="#131722" stroke="#131722" font-size="28" >0.00</text>
</g>
<g clip-path="url(#cpMacdAx)">
<path d="M2033,788 H2122 Q2126,788 2126,792 V826 Q2126,830 2122,830 H2033 Z" fill="#FF6D00"/>
<text x="2053.47" y="818.9" textLength="58.04" lengthAdjust="spacingAndGlyphs" fill="#fff" stroke="#fff" font-size="28" >7.26</text>
</g>
<g clip-path="url(#cpMacdAx)">
<path d="M2033,830 H2122 Q2126,830 2126,834 V868 Q2126,872 2122,872 H2033 Z" fill="#ACE5DC"/>
<text x="2053.37" y="860.4" textLength="57.94" lengthAdjust="spacingAndGlyphs" fill="#000" stroke="#000" font-size="28" >3.66</text>
</g>
<text x="61.81" y="984.3" textLength="32.98" lengthAdjust="spacingAndGlyphs" fill="#131722" stroke="#131722" font-size="28" >22</text>
<text x="315.02" y="984.3" textLength="32.71" lengthAdjust="spacingAndGlyphs" fill="#131722" stroke="#131722" font-size="28" >25</text>
<text x="548.21" y="984.3" textLength="32.98" lengthAdjust="spacingAndGlyphs" fill="#131722" stroke="#131722" font-size="28" >27</text>
<text x="817.8" y="984.3" text-anchor="middle" font-weight="bold" fill="#131722" stroke="none">Jul</text>
<text x="1043.77" y="984.3" textLength="16.54" lengthAdjust="spacingAndGlyphs" fill="#131722" stroke="#131722" font-size="28" >3</text>
<text x="1257.04" y="984.3" textLength="17.12" lengthAdjust="spacingAndGlyphs" fill="#131722" stroke="#131722" font-size="28" >6</text>
<text x="1510.58" y="984.3" textLength="16.86" lengthAdjust="spacingAndGlyphs" fill="#131722" stroke="#131722" font-size="28" >9</text>
<text x="1737.19" y="984.3" textLength="27.94" lengthAdjust="spacingAndGlyphs" fill="#131722" stroke="#131722" font-size="28" >11</text>
<text x="1990.25" y="984.3" textLength="31.33" lengthAdjust="spacingAndGlyphs" fill="#131722" stroke="#131722" font-size="28" >15</text>
<g fill="#131722">
<path d="M25,1039.7 H44.5 V1063.7 H34.7 V1048.9 H25 Z"/>
<circle cx="52.9" cy="1044.8" r="5.3"/>
<path d="M63,1039.7 H73.8 L63.9,1063.7 H53.1 Z"/>
</g>
<text x="82.19" y="1064.3" textLength="176.03" lengthAdjust="spacingAndGlyphs" fill="#131722" stroke="#131722" font-size="31.8" >TradingView</text>
</svg>
</body></html>
